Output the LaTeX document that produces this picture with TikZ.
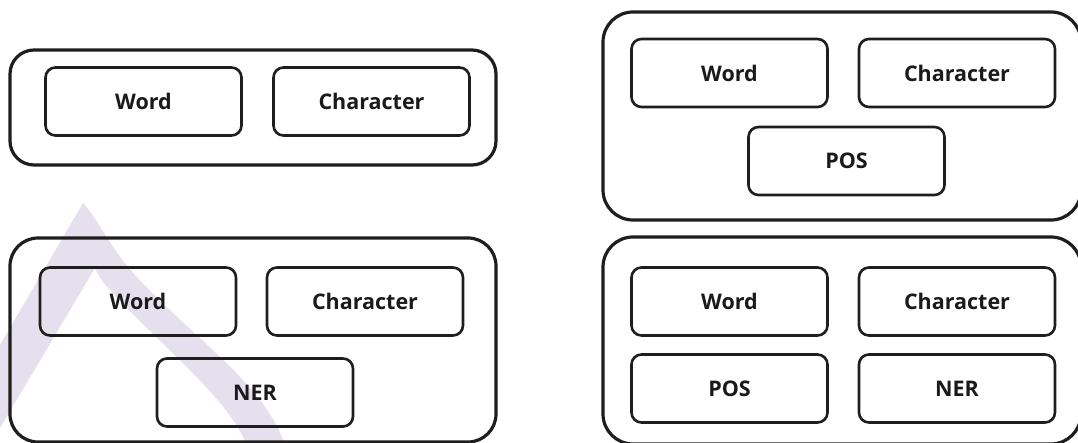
\documentclass[tikz,border=0pt]{standalone}
\usepackage{fontspec}
\setmainfont{Open Sans}
\definecolor{frame}{HTML}{1E1E1E}
\definecolor{ink}{HTML}{1A1A1A}
\definecolor{wing}{HTML}{E5DFEE}
\tikzset{
  group/.style={draw=frame, line width=3.2pt, rectangle, rounded corners=#1, inner sep=0pt},
  group/.default=26pt,
  feat/.style={draw=frame, line width=2.6pt, rectangle, rounded corners=10pt,
    minimum width=196pt, minimum height=68pt, inner sep=0pt,
    font=\fontsize{21.5}{26}\selectfont\bfseries, text=ink},
}
\begin{document}
\begin{tikzpicture}[x=1pt,y=-1pt]
  \useasboundingbox (0,0) rectangle (1078,443);
  \clip (0,0) rectangle (1078,443);
  \fill[white] (0,0) rectangle (1078,443);

  % pale ribbon in the lower left corner
  \fill[wing] (0,345) -- (83,203)
    .. controls (100,222) and (108,245) .. (135,275)
    .. controls (190,335) and (265,385) .. (284,443)
    -- (246,443)
    .. controls (225,395) and (160,345) .. (112,292)
    .. controls (104,284) and (98,276) .. (95,268)
    -- (0,428) -- cycle;

  % top left: word + character
  \node[group=24pt, minimum width=486pt, minimum height=115pt] (g1) at (253,107.5) {};
  \node[feat] (g1w) at (143.5,101.5) {Word};
  \node[feat] (g1c) at (371.5,101.5) {Character};

  % bottom left: word + character + NER
  \node[group=28pt, minimum width=486pt, minimum height=204pt] (g2) at (253,340) {};
  \node[feat] (g2w) at (138,301.5) {Word};
  \node[feat] (g2c) at (365,301.5) {Character};
  \node[feat] (g2n) at (255,392.5) {NER};

  % top right: word + character + POS
  \node[group=30pt, minimum width=478pt, minimum height=208pt] (g3) at (842,116) {};
  \node[feat] (g3w) at (729.5,73) {Word};
  \node[feat] (g3c) at (957,73) {Character};
  \node[feat] (g3p) at (846.5,161) {POS};

  % bottom right: word + character + POS + NER
  \node[group=30pt, minimum width=478pt, minimum height=207pt] (g4) at (842,340.5) {};
  \node[feat] (g4w) at (729.5,301.5) {Word};
  \node[feat] (g4c) at (957,301.5) {Character};
  \node[feat] (g4p) at (729.5,388.5) {POS};
  \node[feat] (g4n) at (957,388.5) {NER};
\end{tikzpicture}
\end{document}
